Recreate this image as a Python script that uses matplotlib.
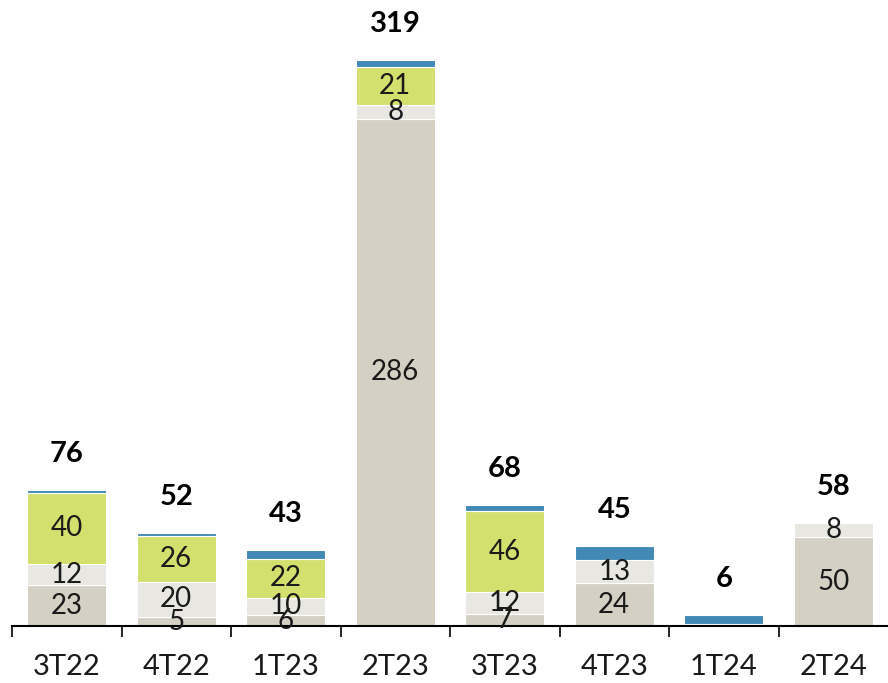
import numpy as np
import matplotlib.pyplot as plt

plt.rcParams['font.family'] = ['Lato', 'DejaVu Sans']

# données
categories = ['3T22', '4T22', '1T23', '2T23', '3T23', '4T23', '1T24', '2T24']
seg_base = [23, 5, 6, 286, 7, 24, 0, 50]
seg_gris = [12, 20, 10, 8, 12, 13, 1, 8]
seg_vert = [40, 26, 22, 21, 46, 0, 0, 0]
seg_bleu = [1.5, 1.5, 5, 4, 3, 8, 5, 0]
totaux = [76, 52, 43, 319, 68, 45, 6, 58]

couleurs = ['#d4d0c4', '#e8e7e2', '#d4e06e', '#4289b5']
series = [seg_base, seg_gris, seg_vert, seg_bleu]

fig = plt.figure(figsize=(8.88, 6.83), dpi=100)
ax = fig.add_axes([12 / 888, 1 - 626 / 683, 1 - 12 / 888, 626 / 683])

x = np.arange(len(categories))
bottom = np.zeros(len(categories))
for i, (vals, col) in enumerate(zip(series, couleurs)):
    vals = np.array(vals, dtype=float)
    ax.bar(x, vals, bottom=bottom, width=0.72, color=col,
           edgecolor='white', linewidth=0.8)
    # étiquettes des segments (sauf le bleu)
    if i < 3:
        for xi, v, b in zip(x, vals, bottom):
            if v >= 5:
                ax.text(xi, b + v / 2, f'{int(v)}', ha='center', va='center',
                        fontsize=20, color='#1a1a1a')
    bottom += vals

# totaux en gras
for xi, b, t in zip(x, bottom, totaux):
    ax.annotate(f'{t}', xy=(xi, b), xytext=(0, 26), textcoords='offset points',
                ha='center', va='center', fontsize=21, fontweight='bold')

ax.set_xlim(-0.5, len(categories) - 0.5)
ax.set_ylim(0, 353)
for s in ['top', 'right', 'left']:
    ax.spines[s].set_visible(False)
ax.spines['bottom'].set_linewidth(1.5)
ax.set_yticks([])

ax.set_xticks(x)
ax.set_xticklabels(categories, fontsize=21, color='#1a1a1a')
ax.tick_params(axis='x', which='major', length=0, pad=20)
ax.set_xticks(np.arange(-0.5, len(categories) - 0.5, 1), minor=True)
ax.tick_params(axis='x', which='minor', length=8, width=1.2, direction='out')

fig.savefig('out.png', dpi=100)
